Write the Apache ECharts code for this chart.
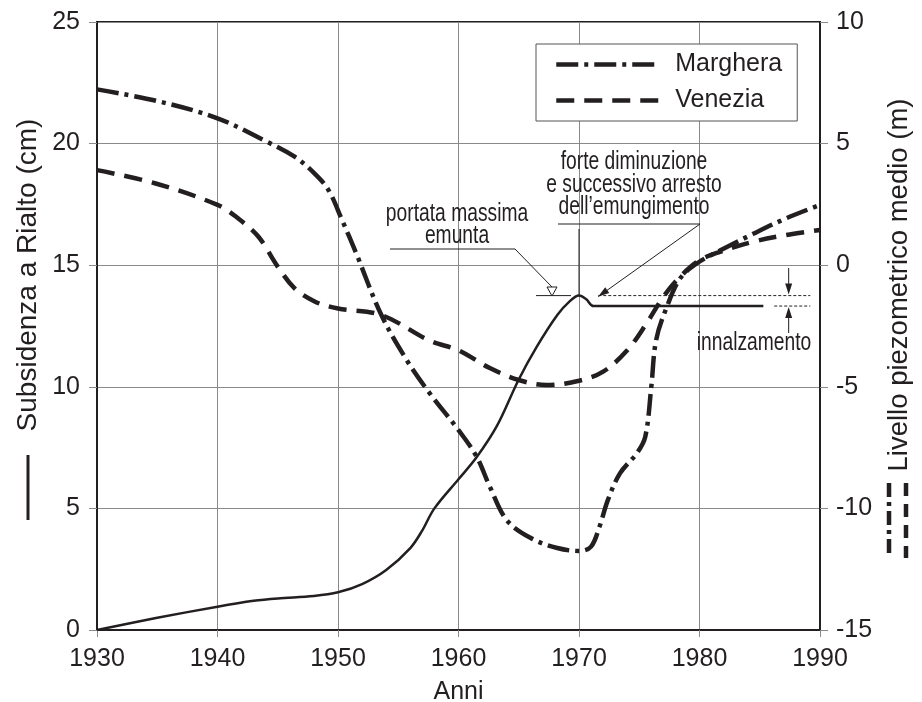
<!DOCTYPE html>
<html>
<head>
<meta charset="utf-8">
<script src="https://cdn.jsdelivr.net/npm/echarts@6/dist/echarts.min.js"></script>
<style>
  html, body { margin: 0; padding: 0; background: #fff; }
  #chart { width: 922px; height: 702px; }
</style>
</head>
<body>
<div id="chart"></div>
<script>
// subsidenza a Rialto (cm), asse sinistro
var anniRialto = [1930, 1935, 1940, 1943, 1945, 1948, 1950, 1952, 1954, 1956, 1957, 1958, 1960, 1961.5, 1963.2, 1965, 1966.5, 1968.2, 1969.2, 1970, 1970.6, 1971.2, 1985.3];
var rialto = [0, 0.5, 0.96, 1.2, 1.3, 1.4, 1.55, 1.89, 2.47, 3.37, 4.1, 5.0, 6.2, 7.1, 8.4, 10.3, 11.65, 12.95, 13.5, 13.75, 13.6, 13.32, 13.32];

// livello piezometrico medio (m), asse destro
var anniMarghera = [1930, 1935, 1940, 1944, 1946.4, 1948, 1949.2, 1950.3, 1951.5, 1953.6, 1955.7, 1957.6, 1960, 1961.5, 1962.6, 1964, 1966, 1968.2, 1970, 1971, 1971.7, 1972.4, 1973.4, 1974.8, 1975.5, 1976, 1976.4, 1977.3, 1978.4, 1979.8, 1981.7, 1984.5, 1987.2, 1990];
var marghera = [7.23, 6.75, 6.04, 5.1, 4.46, 3.8, 3.1, 1.9, 0.5, -2.05, -3.9, -5.26, -6.78, -7.87, -9.11, -10.48, -11.22, -11.63, -11.75, -11.57, -10.75, -9.65, -8.56, -7.73, -7.05, -5.0, -3.08, -1.7, -0.54, 0.08, 0.6, 1.3, 1.93, 2.48];

var anniVenezia = [1930, 1934.8, 1940, 1941.7, 1943.4, 1945, 1946.4, 1948.1, 1950, 1953.6, 1957.6, 1960, 1962.6, 1965, 1967.3, 1970, 1972, 1974, 1975.6, 1977, 1978.4, 1980, 1981.7, 1984.5, 1987.2, 1990];
var venezia = [3.91, 3.37, 2.48, 1.93, 1.17, -0.06, -0.95, -1.5, -1.78, -2.05, -3.1, -3.5, -4.23, -4.72, -4.93, -4.75, -4.38, -3.5, -2.4, -1.3, -0.47, 0.2, 0.55, 0.97, 1.24, 1.45];

var anniTick = { min: 1930, max: 1990, interval: 10 };
var sxTick = { min: 0, max: 25, interval: 5 };
var dxTick = { min: -15, max: 10, interval: 5 };

function coppie(xs, ys) {
    return xs.map(function (x, i) { return [x, ys[i]]; });
}

var nero = '#231f20';
var griglia = '#8a8a8a';
var font = 'Liberation Sans, Arial, sans-serif';
var stretto = 0.77; // testo "narrow" simulato con scaleX

var chart = echarts.init(document.getElementById('chart'));

chart.setOption({
    animation: false,
    backgroundColor: '#fff',
    textStyle: { fontFamily: font, color: nero },
    grid: { //area del grafico
        left: 97,
        right: 102,
        top: 22,
        bottom: 72,
        show: true,
        borderColor: nero,
        borderWidth: 2,
        containLabel: false,
        outerBoundsMode: 'none'
    },
    legend: {
        data: ['Marghera', 'Venezia'],
        orient: 'vertical',
        left: 536,
        top: 44,
        width: 262,
        padding: [8, 15, 8, 18],
        itemGap: 11,
        itemWidth: 104,
        itemHeight: 14,
        borderColor: '#555',
        borderWidth: 1,
        backgroundColor: '#fff',
        itemStyle: { opacity: 0 },
        lineStyle: { width: 4.5 },
        textStyle: { fontSize: 25, color: nero, fontFamily: font, padding: [0, 0, 0, 10] }
    },
    xAxis: {
        type: 'value',
        min: anniTick.min,
        max: anniTick.max,
        interval: anniTick.interval,
        name: 'Anni',
        nameLocation: 'middle',
        nameGap: 50,
        nameTextStyle: { fontSize: 25, color: nero },
        axisLine: { lineStyle: { color: nero, width: 2 } },
        axisTick: { show: true, length: 7, lineStyle: { color: griglia } },
        axisLabel: { fontSize: 25, color: nero, margin: 17, formatter: function (v) { return String(v); } },
        splitLine: { show: true, lineStyle: { color: griglia, width: 1 } }
    },
    yAxis: [
        {
            type: 'value',
            min: sxTick.min,
            max: sxTick.max,
            interval: sxTick.interval,
            axisLine: { show: true, lineStyle: { color: nero, width: 2 } },
            axisTick: { show: true, length: 8, lineStyle: { color: griglia } },
            axisLabel: { fontSize: 25, color: nero, margin: 17 },
            splitLine: { show: true, lineStyle: { color: griglia, width: 1 } }
        },
        {
            type: 'value',
            min: dxTick.min,
            max: dxTick.max,
            interval: dxTick.interval,
            position: 'right',
            axisLine: { show: true, lineStyle: { color: nero, width: 2 } },
            axisTick: { show: true, length: 8, lineStyle: { color: griglia } },
            axisLabel: { fontSize: 25, color: nero, margin: 16 },
            splitLine: { show: false }
        }
    ],
    series: [
        {
            name: 'Rialto',
            type: 'line',
            yAxisIndex: 0,
            smooth: 0.35,
            symbol: 'none',
            lineStyle: { color: nero, width: 2.5 },
            data: coppie(anniRialto, rialto),
            z: 4
        },
        {
            name: 'Marghera',
            type: 'line',
            yAxisIndex: 1,
            smooth: 0.35,
            symbol: 'none',
            itemStyle: { color: nero },
            lineStyle: { color: nero, width: 4.5, type: [22, 6, 4, 6], cap: 'butt' },
            data: coppie(anniMarghera, marghera),
            z: 3
        },
        {
            name: 'Venezia',
            type: 'line',
            yAxisIndex: 1,
            smooth: 0.35,
            symbol: 'none',
            itemStyle: { color: nero },
            lineStyle: { color: nero, width: 4.5, type: [18, 10], cap: 'butt' },
            data: coppie(anniVenezia, venezia),
            z: 3
        }
    ]
});

// annotazioni
var livMax = Math.max.apply(null, rialto);
var livDopo = rialto[rialto.length - 1];
var pPicco = chart.convertToPixel({ gridIndex: 0 }, [1970, livMax]);
var pDopo = chart.convertToPixel({ gridIndex: 0 }, [1971.6, livMax]);
var pFine = chart.convertToPixel({ gridIndex: 0 }, [1988.2, livDopo]);
var pInizioTrat = chart.convertToPixel({ gridIndex: 0 }, [1986.2, livDopo]);
var xFreccia = chart.convertToPixel({ gridIndex: 0 }, [1987.4, 0])[0];
var yMax = pPicco[1];
var yDopo = pFine[1];

function testo(t, x, y) {
    return {
        type: 'text', x: x, y: y, z: 20, scaleX: stretto,
        style: { text: t, fontSize: 25, fontFamily: font, fill: nero, align: 'center', verticalAlign: 'middle' }
    };
}
function linea(x1, y1, x2, y2, w, dash) {
    return {
        type: 'line', z: 20,
        shape: { x1: x1, y1: y1, x2: x2, y2: y2 },
        style: { stroke: nero, lineWidth: w || 1, lineDash: dash || null }
    };
}
function punta(x, y, dx, dy) { // punta di freccia piena verso (x, y)
    var l = Math.sqrt(dx * dx + dy * dy), ux = dx / l, uy = dy / l;
    var bx = x - ux * 11, by = y - uy * 11;
    return {
        type: 'polygon', z: 21,
        shape: { points: [[x, y], [bx - uy * 3.5, by + ux * 3.5], [bx + uy * 3.5, by - ux * 3.5]] },
        style: { fill: nero }
    };
}

chart.setOption({
    graphic: [
        // titoli degli assi
        {
            type: 'text', x: 28, y: 275, rotation: Math.PI / 2,
            style: { text: 'Subsidenza a Rialto (cm)', fontSize: 28, fontFamily: font, fill: nero, align: 'center', verticalAlign: 'middle' }
        },
        linea(28, 455, 28, 520, 3),
        {
            type: 'text', x: 899, y: 285, rotation: Math.PI / 2,
            style: { text: 'Livello piezometrico medio (m)', fontSize: 27.5, fontFamily: font, fill: nero, align: 'center', verticalAlign: 'middle' }
        },
        linea(889, 483, 889, 558, 4.5, [14, 5, 4, 5]),
        linea(906, 483, 906, 558, 4.5, [13, 8]),

        // portata massima emunta
        testo('portata massima', 457, 214),
        testo('emunta', 457, 236),
        linea(390, 249, 515, 249),
        linea(515, 249, 552, 287),
        {
            type: 'polygon', z: 21,
            shape: { points: [[547, 287], [557, 287], [552, 296]] },
            style: { fill: '#fff', stroke: nero, lineWidth: 1 }
        },
        linea(pPicco[0] - 43, yMax, pPicco[0] - 8, yMax),

        // forte diminuzione
        testo('forte diminuzione', 634, 162),
        testo('e successivo arresto', 634, 185),
        testo('dell\u2019emungimento', 634, 207),
        linea(558, 224, 700, 224),
        linea(pPicco[0], 229, pPicco[0], yMax),
        linea(700, 224, pDopo[0], yMax + 1),
        punta(pDopo[0], yMax + 1, pDopo[0] - 700, yMax + 1 - 224),

        // innalzamento
        linea(pDopo[0], yMax, pFine[0] + 12, yMax, 1, [3, 2]),
        linea(pInizioTrat[0], yDopo, pFine[0] + 12, yDopo, 1, [3, 2]),
        linea(xFreccia, 268, xFreccia, yMax - 10),
        punta(xFreccia, yMax - 1, 0, 1),
        linea(xFreccia, 333, xFreccia, yDopo + 10),
        punta(xFreccia, yDopo + 1, 0, -1),
        testo('innalzamento', 754, 343)
    ]
});
</script>
</body>
</html>
